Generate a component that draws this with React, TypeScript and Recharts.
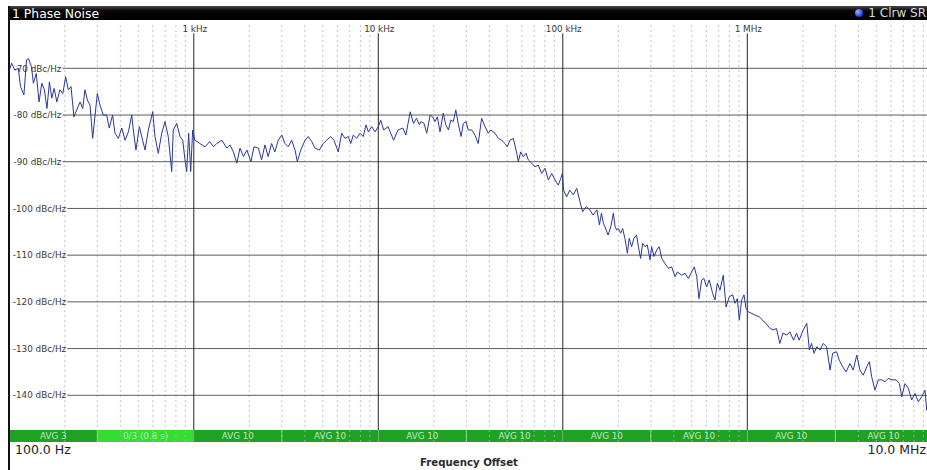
import React from 'react';
import { LineChart, Line, XAxis, YAxis, ReferenceLine, ReferenceArea } from 'recharts';

const offsetHz = [
  // 100 Hz .. 1 kHz
  100, 103, 107, 112, 115, 120, 124, 127, 132, 135, 140, 145, 150, 155, 160, 165, 170, 175, 181, 188,
  195, 202, 209, 216, 224, 232, 242, 250, 257, 265, 274, 283, 291, 300, 310, 323, 337, 348, 363, 374,
  390, 407, 424, 442, 461, 470, 486, 507, 528, 544, 567, 599, 616, 642, 670, 698, 727, 759, 774, 808,
  842, 871, 896, 915, 938, 962, 986,
  // 1 kHz .. 10 kHz
  1015, 1080, 1150, 1220, 1280, 1330, 1420, 1510, 1570, 1640, 1710, 1780, 1860, 1940, 2040, 2120, 2240,
  2330, 2430, 2530, 2640, 2750, 2870, 3000, 3120, 3250, 3390, 3540, 3640, 3800, 4010, 4170, 4360, 4540,
  4790, 5030, 5250, 5520, 5750, 6070, 6330, 6600, 6880, 7090, 7320, 7640, 7960, 8290, 8580, 8830, 9210,
  9600,
  // 10 kHz .. 100 kHz
  10000, 10300, 10700, 11300, 12100, 12800, 13600, 14100, 14900, 15500, 16100, 16700, 17000, 17700,
  18300, 19100, 19700, 20300, 20900, 21600, 22500, 23200, 24000, 24700, 25500, 26300, 27100, 28100,
  28900, 29900, 30700, 32100, 33400, 34800, 36300, 37900, 39500, 40700, 42900, 44700, 46600, 48600,
  50000, 51700, 53900, 56300, 57400, 59100, 61100, 63200, 65000, 67800, 70700, 73600, 76800, 80100,
  83500, 87100, 90700, 94500, 97400, 99500,
  // 100 kHz .. 1 MHz
  101000, 105000, 109000, 114000, 119000, 124000, 128000, 134000, 140000, 146000, 153000, 158000,
  162000, 166000, 169000, 176000, 182000, 188000, 192000, 196000, 200000, 206000, 211000, 217000,
  224000, 229000, 236000, 243000, 251000, 257000, 264000, 271000, 279000, 287000, 297000, 303000,
  312000, 323000, 333000, 344000, 358000, 373000, 389000, 406000, 418000, 441000, 460000, 479000,
  499000, 516000, 532000, 547000, 566000, 582000, 602000, 622000, 649000, 668000, 688000, 711000,
  741000, 767000, 799000, 833000, 858000, 883000, 905000, 932000, 960000, 984000,
  // 1 MHz .. 10 MHz
  1.01e6, 1.06e6, 1.1e6, 1.16e6, 1.21e6, 1.26e6, 1.33e6, 1.38e6, 1.44e6, 1.5e6, 1.56e6, 1.64e6, 1.7e6,
  1.78e6, 1.85e6, 1.91e6, 2.01e6, 2.1e6, 2.17e6, 2.23e6, 2.3e6, 2.38e6, 2.48e6, 2.58e6, 2.69e6, 2.81e6,
  2.9e6, 3.05e6, 3.15e6, 3.29e6, 3.43e6, 3.6e6, 3.75e6, 3.92e6, 4.08e6, 4.25e6, 4.44e6, 4.59e6, 4.72e6,
  4.92e6, 5.13e6, 5.35e6, 5.58e6, 5.81e6, 6.14e6, 6.4e6, 6.67e6, 6.87e6, 7.16e6, 7.46e6, 7.78e6, 8.11e6,
  8.45e6, 8.82e6, 9.19e6, 9.38e6, 1e7,
];

// phase noise in dBc/Hz, same order as offsetHz
const noiseDbc = [
  -70.4, -68.9, -70.4, -70.0, -73.9, -75.7, -68.2, -67.9, -69.7, -73.2, -71.1, -77.2, -73.2, -74.6, -78.6,
  -72.9, -76.4, -74.3, -77.2, -74.6, -75.4, -71.8, -74.6, -73.9, -80.4, -78.9, -77.2, -78.6, -74.6, -76.8,
  -77.9, -85.0, -80.4, -75.4, -77.9, -80.0, -80.0, -82.8, -80.0, -83.9, -85.0, -82.8, -85.4, -83.6, -80.0,
  -83.2, -87.5, -82.5, -85.4, -87.5, -83.2, -79.3, -84.6, -88.2, -83.9, -81.4, -84.6, -92.1, -83.2, -81.8,
  -84.6, -85.4, -89.6, -92.1, -83.9, -92.1, -83.2,

  -85.4, -86.1, -86.8, -85.7, -86.8, -86.1, -85.4, -87.1, -86.4, -87.9, -90.3, -87.1, -88.9, -87.5, -90.0,
  -86.8, -87.1, -89.6, -86.4, -88.9, -86.1, -87.9, -85.4, -84.3, -86.1, -86.8, -85.4, -87.5, -90.0, -87.5,
  -85.4, -84.6, -85.7, -87.1, -87.5, -86.1, -85.4, -84.6, -85.4, -87.9, -83.9, -85.0, -84.6, -86.1, -84.3,
  -85.0, -83.9, -84.6, -82.1, -83.6, -82.5, -83.6,

  -82.5, -81.1, -83.2, -82.5, -85.4, -83.2, -82.8, -84.3, -79.3, -81.8, -80.7, -82.1, -81.4, -81.8, -83.9,
  -80.0, -80.4, -81.4, -80.4, -83.6, -79.6, -82.1, -83.2, -81.1, -81.4, -78.9, -81.8, -84.6, -81.8, -81.4,
  -83.2, -83.2, -84.3, -86.1, -80.7, -82.5, -83.9, -83.2, -83.9, -85.0, -85.4, -86.1, -86.8, -85.4, -85.0,
  -88.2, -90.0, -87.9, -88.9, -88.2, -89.6, -90.3, -91.1, -90.7, -92.5, -91.4, -93.9, -92.5, -93.9, -95.0,
  -93.6, -92.5,

  -96.1, -97.5, -96.1, -97.1, -95.7, -98.6, -100.7, -99.6, -100.3, -101.4, -100.3, -103.5, -101.0, -103.2,
  -103.9, -105.7, -103.9, -101.0, -103.9, -104.6, -104.3, -105.3, -104.3, -106.4, -109.6, -106.4, -108.2,
  -106.4, -105.7, -108.2, -110.7, -107.5, -108.2, -107.8, -111.0, -108.2, -110.3, -108.9, -108.2, -110.7,
  -111.8, -112.8, -112.5, -114.6, -113.6, -114.3, -113.9, -115.0, -113.6, -112.5, -114.6, -119.3, -115.3,
  -115.0, -116.8, -115.3, -118.2, -119.6, -116.0, -117.5, -114.3, -121.1, -118.9, -118.5, -120.3, -119.3,
  -123.9, -119.6, -118.5, -121.4,

  -122.1, -122.5, -122.8, -123.2, -123.9, -124.6, -125.7, -126.0, -125.7, -128.9, -126.7, -127.1, -126.4,
  -128.2, -126.7, -128.2, -126.0, -124.6, -130.3, -128.9, -131.0, -129.6, -130.3, -128.9, -129.6, -134.6,
  -131.0, -130.7, -132.5, -133.9, -135.0, -133.2, -134.6, -131.4, -134.6, -135.7, -133.9, -132.8, -136.0,
  -138.9, -136.7, -136.7, -137.1, -136.4, -136.7, -136.7, -137.5, -140.3, -137.5, -138.5, -141.0, -139.6,
  -141.4, -140.3, -138.9, -143.2, -141.5,
];

const decadeHz = [1000, 10000, 100000, 1000000];
const decadeLabels = ['1 kHz', '10 kHz', '100 kHz', '1 MHz'];
const minorHz = [
  200, 300, 400, 500, 600, 700, 800, 900,
  2000, 3000, 4000, 5000, 6000, 7000, 8000, 9000,
  20000, 30000, 40000, 50000, 60000, 70000, 80000, 90000,
  200000, 300000, 400000, 500000, 600000, 700000, 800000, 900000,
  2e6, 3e6, 4e6, 5e6, 6e6, 7e6, 8e6, 9e6,
];
const levelTicks = [-70, -80, -90, -100, -110, -120, -130, -140];

// sweep status strip along the bottom of the diagram
const statusEdges = [100, 300, 1000, 3000, 10000, 30000, 100000, 300000, 1e6, 3e6, 1e7];
const statusLabels = ['AVG 3', '0/3 (0.8 s)', 'AVG 10', 'AVG 10', 'AVG 10', 'AVG 10', 'AVG 10', 'AVG 10', 'AVG 10', 'AVG 10'];

const data = offsetHz.map((f, i) => ({ f, db: noiseDbc[i] }));

const FONT = '"DejaVu Sans", Verdana, sans-serif';
const STRIP_TOP = -147.43;
const Y_MIN = -150;

const LevelLabel = ({ viewBox, text }: any) => (
  <text x={viewBox.x - 1} y={viewBox.y + 3.2} textAnchor="end" fontSize={8.8} fill="#3a3a3a" fontFamily={FONT}>
    {text}
  </text>
);

const DecadeLabel = ({ viewBox, text }: any) => (
  <text x={viewBox.x + 1} y={viewBox.y - 1} textAnchor="middle" fontSize={8.8} fill="#3a3a3a" fontFamily={FONT}>
    {text}
  </text>
);

export default function App() {
  return (
    <div style={{ position: 'absolute', left: 0, top: 0, width: 927, height: 470, overflow: 'hidden', background: '#fff', fontFamily: FONT }}>
      <div style={{ position: 'absolute', left: 0, top: 0 }}>
        <LineChart width={932} height={470} data={data} margin={{ top: 21.6, right: 0.2, bottom: 28, left: 9.3 }}>
          <XAxis dataKey="f" type="number" scale="log" domain={[100, 10000000]} allowDataOverflow hide />
          <YAxis type="number" domain={[Y_MIN, -60]} allowDataOverflow hide />

          {minorHz.map((f) => (
            <ReferenceLine key={'m' + f} x={f} stroke="#b4b4b4" strokeWidth={0.8} strokeDasharray="2 3" />
          ))}

          {levelTicks.map((v) => (
            <ReferenceLine
              key={'h' + v}
              segment={[{ x: v <= -100 ? 206 : 194, y: v }, { x: 10000000, y: v }]}
              stroke="#5c5c5c"
              strokeWidth={1}
              label={<LevelLabel text={`${v} dBc/Hz`} />}
            />
          ))}

          {decadeHz.map((f, i) => (
            <ReferenceLine
              key={'d' + f}
              segment={[{ x: f, y: -62.5 }, { x: f, y: Y_MIN }]}
              stroke="#262626"
              strokeWidth={1}
              label={<DecadeLabel text={decadeLabels[i]} />}
            />
          ))}

          {statusLabels.map((s, i) => (
            <ReferenceArea
              key={'s' + i}
              x1={statusEdges[i]}
              x2={statusEdges[i + 1]}
              y1={STRIP_TOP}
              y2={Y_MIN}
              fill={i === 1 ? '#34dc34' : '#1fa124'}
              fillOpacity={1}
              stroke="none"
              label={{ value: s, position: 'center', fontSize: 8.8, fill: i === 1 ? '#a6f3a6' : '#bfe9bf', fontFamily: FONT }}
            />
          ))}
          {statusEdges.slice(1, -1).map((f) => (
            <ReferenceLine key={'e' + f} segment={[{ x: f, y: STRIP_TOP }, { x: f, y: Y_MIN }]} stroke="#86d486" strokeWidth={1} />
          ))}

          <Line type="linear" dataKey="db" stroke="#2b3891" strokeWidth={1} dot={false} isAnimationActive={false} />
        </LineChart>
      </div>

      {/* window title bar */}
      <div style={{ position: 'absolute', left: 9, top: 6, width: 930, height: 14, background: 'linear-gradient(#4a4a4a, #050505 35%, #000)' }} />
      <div style={{ position: 'absolute', left: 12, top: 5.5, fontSize: 12.4, lineHeight: '15px', color: '#fff', whiteSpace: 'nowrap' }}>1 Phase Noise</div>
      <div style={{ position: 'absolute', left: 855, top: 9, width: 8, height: 8, borderRadius: 4, background: 'radial-gradient(circle at 35% 35%, #9fb4ff, #1f33d6 70%)' }} />
      <div style={{ position: 'absolute', right: 1, top: 5.5, fontSize: 12, lineHeight: '15px', color: '#d8d8d8', whiteSpace: 'nowrap' }}>1 Clrw SR</div>

      {/* left frame */}
      <div style={{ position: 'absolute', left: 8, top: 6, width: 2, height: 464, background: '#111' }} />

      <div style={{ position: 'absolute', left: 15, top: 442, fontSize: 12.5, lineHeight: '15px', color: '#1e1e1e', whiteSpace: 'nowrap' }}>100.0 Hz</div>
      <div style={{ position: 'absolute', right: 1, top: 442, fontSize: 12.5, lineHeight: '15px', color: '#1e1e1e', whiteSpace: 'nowrap' }}>10.0 MHz</div>
      <div style={{ position: 'absolute', left: 469, top: 455.5, transform: 'translateX(-50%)', fontSize: 10.2, fontWeight: 700, lineHeight: '13px', color: '#2a2a2a', whiteSpace: 'nowrap' }}>Frequency Offset</div>
    </div>
  );
}
